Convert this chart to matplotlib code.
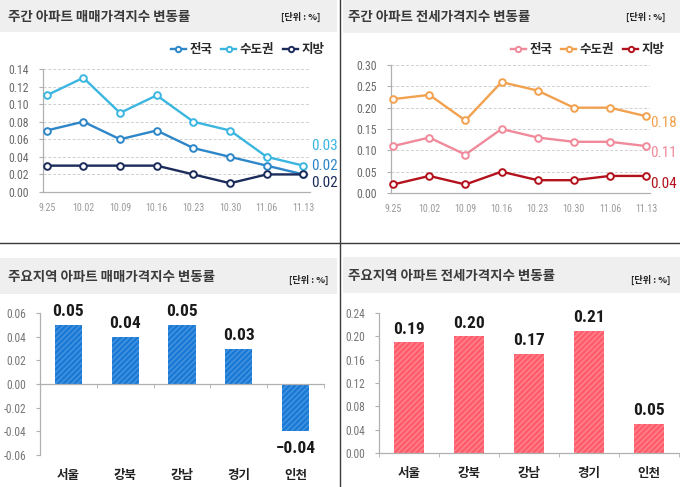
import matplotlib
matplotlib.use('Agg')
import matplotlib.pyplot as plt
from matplotlib import font_manager
from matplotlib.font_manager import FontProperties
from matplotlib.patches import Rectangle
from matplotlib.lines import Line2D
import numpy as np

# ---------------- data ----------------
weeks = ['9.25', '10.02', '10.09', '10.16', '10.23', '10.30', '11.06', '11.13']
series_names = ['전국', '수도권', '지방']

sale_nation = [0.07, 0.08, 0.06, 0.07, 0.05, 0.04, 0.03, 0.02]
sale_capital = [0.11, 0.13, 0.09, 0.11, 0.08, 0.07, 0.04, 0.03]
sale_local = [0.03, 0.03, 0.03, 0.03, 0.02, 0.01, 0.02, 0.02]

jeonse_nation = [0.11, 0.13, 0.09, 0.15, 0.13, 0.12, 0.12, 0.11]
jeonse_capital = [0.22, 0.23, 0.17, 0.26, 0.24, 0.20, 0.20, 0.18]
jeonse_local = [0.02, 0.04, 0.02, 0.05, 0.03, 0.03, 0.04, 0.04]

regions = ['서울', '강북', '강남', '경기', '인천']
region_sale = [0.05, 0.04, 0.05, 0.03, -0.04]
region_jeonse = [0.19, 0.20, 0.17, 0.21, 0.05]

sale_line_ticks = [0.00, 0.02, 0.04, 0.06, 0.08, 0.10, 0.12, 0.14]
jeonse_line_ticks = [0.00, 0.05, 0.10, 0.15, 0.20, 0.25, 0.30]
sale_bar_ticks = [-0.06, -0.04, -0.02, 0.00, 0.02, 0.04, 0.06]
jeonse_bar_ticks = [0.00, 0.04, 0.08, 0.12, 0.16, 0.20, 0.24]

titles = ['주간 아파트 매매가격지수 변동률', '주간 아파트 전세가격지수 변동률',
          '주요지역 아파트 매매가격지수 변동률', '주요지역 아파트 전세가격지수 변동률']
unit_text = '[단위 : %]'

# ---------------- fonts ----------------
KR = 'Noto Sans CJK KR'
plt.rcParams['font.family'] = [KR, 'DejaVu Sans']
plt.rcParams['hatch.linewidth'] = 0.9


def _w(v):
    try:
        return int(v)
    except (TypeError, ValueError):
        return {'bold': 700, 'normal': 400, 'regular': 400, 'medium': 500,
                'light': 300, 'semibold': 600, 'heavy': 800, 'black': 900}.get(str(v).lower(), 400)


def find_condensed(bold):
    prefs = ['Liberation Sans Narrow', 'Roboto Condensed', 'DejaVu Sans', 'Open Sans',
             'Noto Sans', 'Roboto', 'Inter', 'Lato']
    best = None
    for f in font_manager.fontManager.ttflist:
        name = f.name
        cond = ('Narrow' in name) or ('Condensed' in name) or \
               (str(f.stretch).lower() in ('condensed', 'semi-condensed', 'extra-condensed'))
        if not cond or f.style != 'normal':
            continue
        if 'Mono' in name or 'Serif' in name:
            continue
        w = _w(f.weight)
        target = 700 if bold else 400
        if abs(w - target) > 150:
            continue
        base = name.replace(' Condensed', '').replace(' Narrow', '')
        rank = prefs.index(name) if name in prefs else (prefs.index(base) + 0.5 if base in prefs else 99)
        key = (rank, abs(w - target))
        if best is None or key < best[0]:
            best = (key, f.fname)
    return best[1] if best else None


_reg = find_condensed(False)
_bold = find_condensed(True)


def num_font(size, bold=False):
    path = _bold if bold else _reg
    if path:
        return FontProperties(fname=path, size=size)
    return FontProperties(family='Liberation Sans', size=size,
                          weight='bold' if bold else 'normal')


W, H = 680, 487
fig = plt.figure(figsize=(W / 100, H / 100), dpi=100)


def fx(px):
    return px / W


def fy(py):
    return 1 - py / H


def rect(l, t, r, b):
    return [fx(l), fy(b), fx(r) - fx(l), fy(t) - fy(b)]


# title bands
for (l, t, r, b) in [(0, 0, 337, 32), (343, 0, 680, 33), (0, 258, 337, 294), (343, 257, 680, 293)]:
    fig.patches.append(Rectangle((fx(l), fy(b)), fx(r) - fx(l), fy(t) - fy(b),
                                 transform=fig.transFigure, facecolor='#efefef',
                                 edgecolor='none', zorder=0))

# divider lines
fig.add_artist(Line2D([fx(340), fx(340)], [0, 1], transform=fig.transFigure, color='#3a3a3a', lw=1.0))
fig.add_artist(Line2D([0, 1], [fy(243), fy(243)], transform=fig.transFigure, color='#3a3a3a', lw=1.0))

# titles
title_pos = [(8, 17), (348, 17), (8, 277), (348, 276)]
unit_pos = [(320, 17), (665, 17), (328, 280), (670, 280)]
for t, (px, py), (ux, uy) in zip(titles, title_pos, unit_pos):
    fig.text(fx(px), fy(py), t, fontsize=9.7, color='#3a3a3a', ha='left', va='center',
             fontweight='bold')
    fig.text(fx(ux), fy(uy), unit_text, fontsize=6.6, color='#222222', ha='right', va='center',
             fontweight='bold')


def line_panel(r, series, colors, ylim, yticks, end_offsets, end_dx, legend_right, xlim):
    ax = fig.add_axes(r)
    x = np.arange(len(weeks))
    handles = []
    for vals, c, name in zip(series, colors, series_names):
        h, = ax.plot(x, vals, color=c, lw=1.7, marker='o', ms=4.8, mfc='white', mec=c,
                     mew=1.4, label=name, zorder=3, clip_on=False)
        handles.append(h)
    for vals, c, dy in zip(series, colors, end_offsets):
        ax.annotate(f'{vals[-1]:.2f}', (x[-1], vals[-1]), xytext=(end_dx, dy),
                    textcoords='offset pixels', ha='left', va='center', color=c,
                    fontproperties=num_font(11))
    ax.set_xlim(*xlim)
    ax.set_ylim(*ylim)
    ax.set_yticks(yticks, labels=[f'{v:.2f}' for v in yticks])
    ax.set_xticks(x, labels=weeks)
    for lab in ax.get_yticklabels():
        lab.set_fontproperties(num_font(8.5))
        lab.set_color('#6a6a6a')
    for lab in ax.get_xticklabels():
        lab.set_fontproperties(num_font(7.2))
        lab.set_color('#9a9a9a')
    ax.tick_params(axis='y', length=3, color='#b0b0b0', pad=7)
    ax.tick_params(axis='x', length=0, pad=8)
    for s in ['top', 'right']:
        ax.spines[s].set_visible(False)
    for s in ['left', 'bottom']:
        ax.spines[s].set_color('#b0b0b0')
        ax.spines[s].set_linewidth(0.9)
    ax.yaxis.grid(True, color='#cfcfcf', lw=0.7, linestyle=(0, (3, 2)))
    ax.set_axisbelow(True)
    ax.legend(handles=handles, loc='center right', bbox_to_anchor=(fx(legend_right), fy(50)),
              bbox_transform=fig.transFigure, ncol=3, frameon=False,
              prop={'family': [KR, 'DejaVu Sans'], 'size': 9, 'weight': 'bold'},
              handlelength=1.2, handletextpad=0.3, columnspacing=0.7, borderpad=0,
              labelcolor='#2a2a2a', markerscale=0.8)
    return ax


line_panel(rect(43, 69, 310, 192), [sale_nation, sale_capital, sale_local],
           ['#2c86c8', '#3ab6e0', '#1b2b5a'], (0, 0.14), sale_line_ticks,
           end_offsets=[8, 20, -9], end_dx=8, legend_right=331, xlim=(-0.1, 7.18))

line_panel(rect(391, 65, 650, 193), [jeonse_nation, jeonse_capital, jeonse_local],
           ['#f08a9b', '#f2a14f', '#b3121c'], (0, 0.30), jeonse_line_ticks,
           end_offsets=[-7, -7, -8], end_dx=4, legend_right=671, xlim=(-0.06, 7.11))


def bar_panel(r, vals, color, hatch_color, ylim, yticks, width):
    ax = fig.add_axes(r)
    x = np.arange(len(regions))
    ax.bar(x, vals, width=width, color=color, edgecolor=hatch_color, linewidth=0,
           hatch='//////', zorder=2)
    for xi, v in zip(x, vals):
        dy = 13 if v >= 0 else -17
        txt = f'{v:.2f}' if v >= 0 else '−' + f'{abs(v):.2f}'
        ax.annotate(txt, (xi, v), xytext=(0, dy), textcoords='offset pixels',
                    ha='center', va='center', color='#1a1a1a',
                    fontproperties=num_font(12.5, bold=True))
        ax.annotate(regions[xi], (xi, 0), xycoords=('data', 'axes fraction'),
                    xytext=(0, -20), textcoords='offset pixels', ha='center', va='center',
                    fontsize=9, fontweight='bold', color='#222222')
    ax.set_xlim(-0.5, len(regions) - 0.5)
    ax.set_ylim(*ylim)
    ax.set_yticks(yticks, labels=[f'{v:.2f}' for v in yticks])
    for lab in ax.get_yticklabels():
        lab.set_fontproperties(num_font(8.3))
        lab.set_color('#777777')
    ax.set_xticks(x, labels=[''] * len(regions))
    ax.set_xticks(np.arange(len(regions) + 1) - 0.5, minor=True)
    ax.tick_params(axis='x', which='major', length=0)
    ax.tick_params(axis='x', which='minor', length=3, color='#b0b0b0', direction='out')
    ax.tick_params(axis='y', length=3, color='#b0b0b0', pad=7)
    for s in ['top', 'right']:
        ax.spines[s].set_visible(False)
    ax.spines['bottom'].set_position(('data', 0))
    for s in ['left', 'bottom']:
        ax.spines[s].set_color('#b0b0b0')
        ax.spines[s].set_linewidth(0.9)
    return ax


bar_panel(rect(40, 313, 324, 455), region_sale, '#1a7ad6', '#4c97e0', (-0.06, 0.06),
          sale_bar_ticks, 0.48)
bar_panel(rect(379, 313, 679, 453), region_jeonse, '#ff5d6b', '#ff8891', (0, 0.24),
          jeonse_bar_ticks, 0.5)

fig.savefig('out.png', dpi=100)
